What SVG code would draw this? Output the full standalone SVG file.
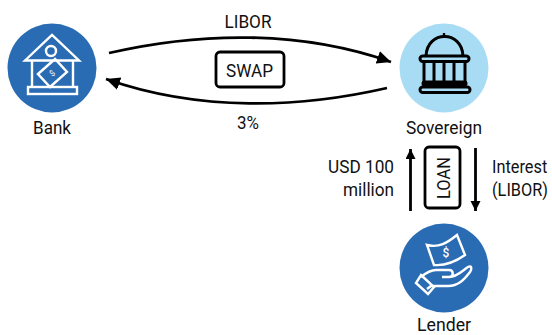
<svg xmlns="http://www.w3.org/2000/svg" width="552" height="335" viewBox="0 0 552 335">
<style>
text{font-family:Roboto,"Liberation Sans",sans-serif;font-size:19px;fill:#111}
.m{text-anchor:middle}
.c{fill:none;stroke:#000;stroke-width:2.800}
.box{fill:none;stroke:#000;stroke-width:2.800}
.w{fill:none;stroke:#fff;stroke-width:2.400}
.k{fill:none;stroke:#000;stroke-width:3;stroke-linejoin:round}
</style>
<defs>
<marker id="a" markerUnits="userSpaceOnUse" markerWidth="16" markerHeight="14" refX="14" refY="6.500" orient="auto"><path d="M0 0L14 6.500L0 13Z" fill="#000"/></marker>
<marker id="b" markerUnits="userSpaceOnUse" markerWidth="12" markerHeight="12" refX="10" refY="5" orient="auto"><path d="M0 0L10 5L0 10Z" fill="#000"/></marker>
</defs>
<g id="connectors">
<path class="c" d="M109 53C200 32 300 30 391 62" marker-end="url(#a)"/>
<path class="c" d="M387 88C300 108 200 112 106 79" marker-end="url(#a)"/>
<path class="c" d="M410.500 211V149" marker-end="url(#b)"/>
<path class="c" d="M475.500 148V211" marker-end="url(#b)"/>
</g>
<g id="bank">
<circle cx="52" cy="68" r="44.500" fill="#2a6cb4"/>
<path class="w" d="M25 60.500L52 35L79 60.500Z"/>
<circle class="w" cx="51" cy="51" r="5"/>
<path class="w" d="M32 61V87M73 61V87"/>
<rect class="w" x="28" y="87" width="49" height="7"/>
<path class="w" d="M38 74L55 59L67 72L50 87Z"/>
<text x="52" y="76" class="m" style="font-size:8px;fill:#fff" transform="rotate(-40 52 73)">$</text>
<text x="52" y="134" class="m" textLength="38" lengthAdjust="spacingAndGlyphs">Bank</text>
</g>
<g id="sovereign">
<circle cx="444" cy="68" r="44.500" fill="#a8dcf5"/>
<path class="k" d="M426 56C427 30 462 30 463 56"/>
<rect class="k" x="420" y="56" width="49" height="5.500" rx="2.700"/>
<path class="k" d="M424 62V82M465 62V82M434 62V82M444 62V82M454 62V82"/>
<rect class="k" x="423" y="82" width="43" height="3" rx="1.500"/>
<rect class="k" x="420" y="87" width="50" height="5.500" rx="2.700"/>
<path d="M444 33V38" stroke="#000" stroke-width="2.400"/>
<text x="444" y="134" class="m" textLength="76" lengthAdjust="spacingAndGlyphs">Sovereign</text>
</g>
<g id="lender">
<circle cx="444" cy="268" r="44.500" fill="#2a6cb4"/>
<path class="w" d="M427 245C439 248 447 243 457 235L465 255C455 262 445 266 434 265Z"/>
<text x="446" y="257" class="m" style="font-size:12px;font-weight:500;fill:#fff">$</text>
<path class="w" d="M421 277C427 272 431 270 436 270H449C454 270 454 277 449 277H442M449 277C457 277 462 271 468 267C472 265 472 269 470 272C464 280 458 286 448 286H431L427 289"/>
<path class="w" d="M421 275L434 287L428 294L416 283Z"/>
<text x="444" y="331" class="m" textLength="54" lengthAdjust="spacingAndGlyphs">Lender</text>
</g>
<g id="swap">
<rect class="box" x="216" y="52" width="68" height="35" rx="4"/>
<text x="249.500" y="77" class="m" textLength="47" lengthAdjust="spacingAndGlyphs">SWAP</text>
</g>
<g id="loan">
<rect class="box" x="425" y="147" width="35" height="61" rx="4"/>
<text x="449.500" y="178" class="m" transform="rotate(-90 449.500 178)" textLength="42" lengthAdjust="spacingAndGlyphs">LOAN</text>
</g>
<g id="labels">
<text x="248" y="28" class="m" textLength="47" lengthAdjust="spacingAndGlyphs">LIBOR</text>
<text x="248" y="129" class="m" textLength="22" lengthAdjust="spacingAndGlyphs">3%</text>
<text x="328" y="173" textLength="66" lengthAdjust="spacingAndGlyphs">USD 100</text>
<text x="343" y="196" textLength="51" lengthAdjust="spacingAndGlyphs">million</text>
<text transform="translate(492 173) scale(.86 1)">Interest</text>
<text transform="translate(492 196) scale(.86 1)">(LIBOR)</text>
</g>
</svg>
